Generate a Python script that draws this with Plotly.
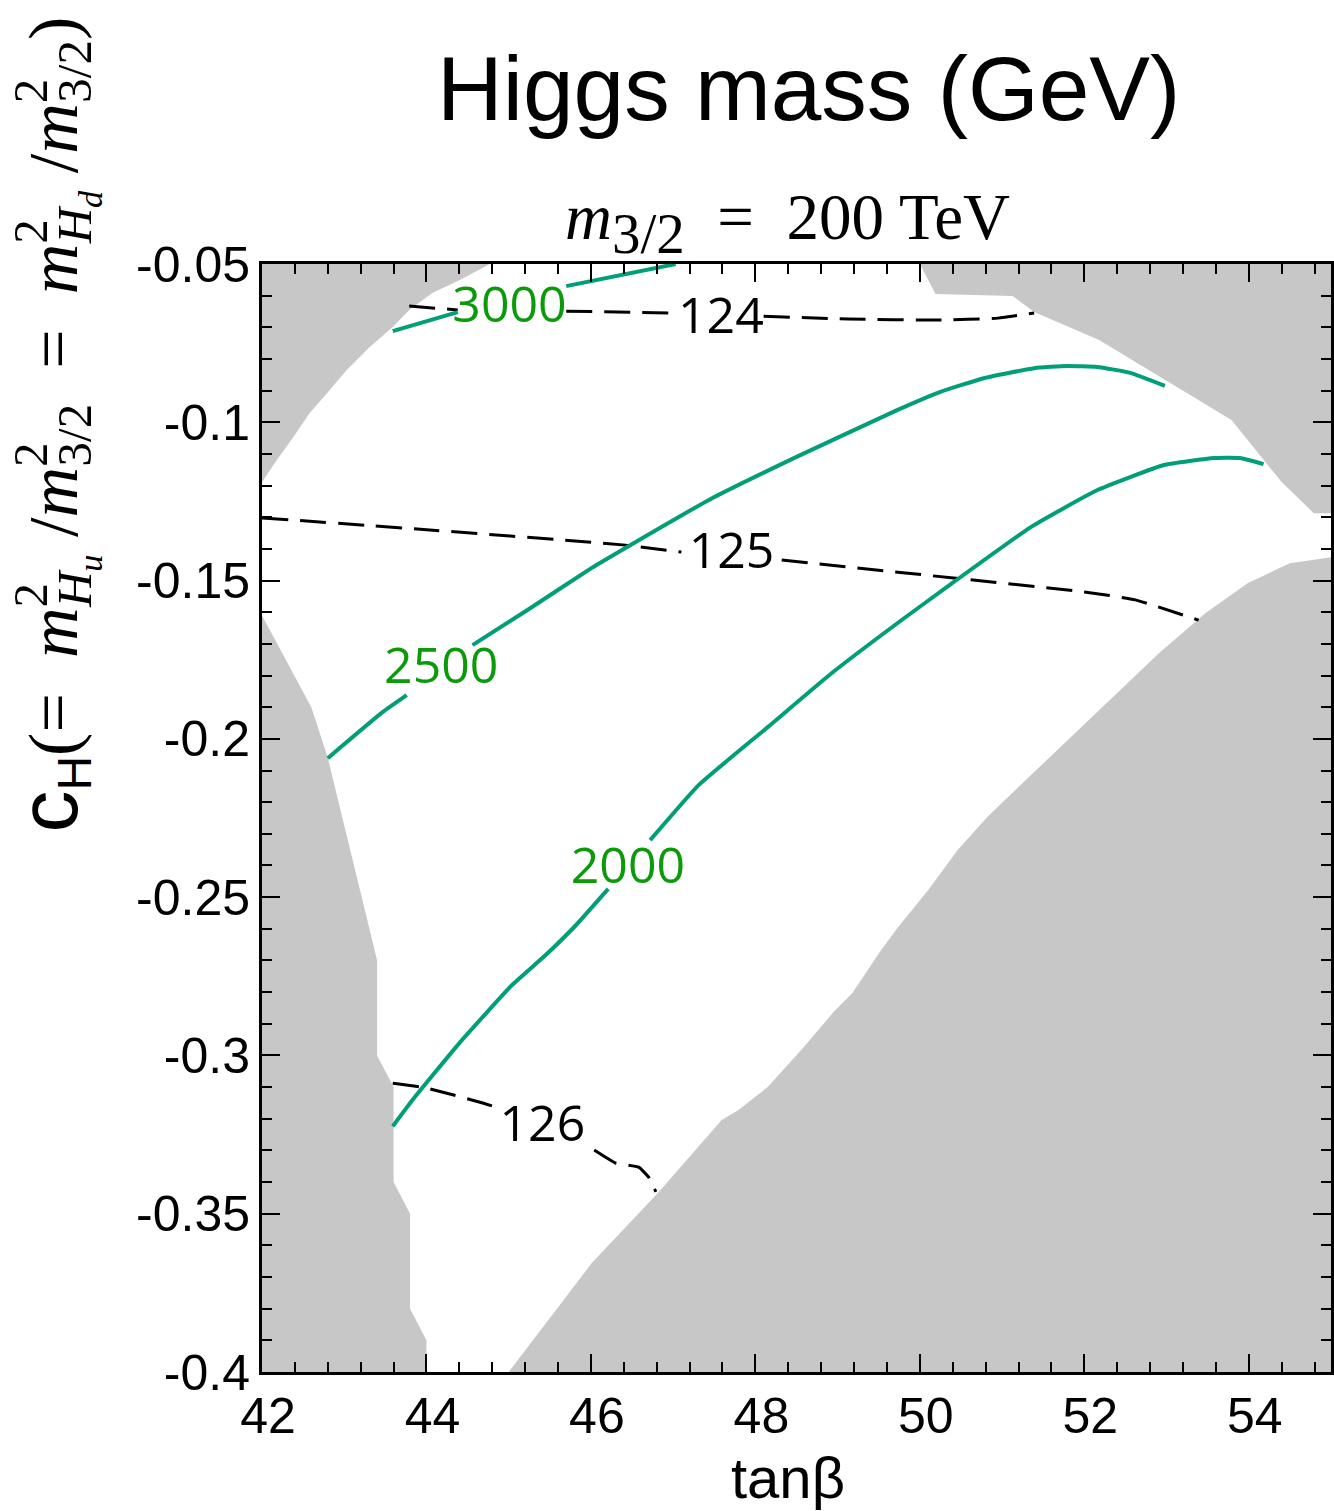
import plotly.graph_objects as go

# ---- excluded regions (grey) ----
ul_x = [42.0, 42.18, 42.38, 42.58, 42.79, 43.03, 43.31, 43.59, 43.79, 44.07, 44.40, 44.77, 42.0]
ul_y = [-0.1189, -0.1119, -0.1047, -0.0971, -0.0908, -0.0835, -0.0762, -0.0699, -0.0645,
        -0.0592, -0.0551, -0.05, -0.05]

ll_x = [42.0, 42.6, 42.8, 43.4, 43.4, 43.6, 43.6, 43.8, 43.8, 44.0, 44.0, 42.0]
ll_y = [-0.161, -0.19, -0.206, -0.27, -0.30, -0.31, -0.34, -0.35, -0.38, -0.39, -0.40, -0.40]

ur_x = [50.0, 50.19, 51.13, 51.39, 52.18, 53.79, 54.40, 54.79, 55.0, 55.0]
ur_y = [-0.05, -0.0595, -0.0601, -0.0652, -0.074, -0.0993, -0.1189, -0.1287, -0.1287, -0.05]

lr_x = [45.0, 46.01, 46.82, 47.59, 47.79, 48.15, 48.59, 48.95, 49.18, 49.53, 49.73,
        50.10, 50.46, 50.82, 51.2, 52.06, 52.91, 53.48, 53.99, 54.5, 55.0, 55.0]
lr_y = [-0.40, -0.3656, -0.3433, -0.3204, -0.3173, -0.31, -0.2973, -0.2863, -0.2803,
        -0.2667, -0.2597, -0.2478, -0.2351, -0.2247, -0.2152, -0.194, -0.1729, -0.1602,
        -0.1508, -0.1445, -0.1426, -0.40]

# ---- Higgs mass contours (GeV), broken where the labels sit ----
h124_x = [43.79, 44.38, None, 45.70, 47.05, None, 48.10, 49.13, 50.22, 50.95, 51.39]
h124_y = [-0.0633, -0.0645, None, -0.0649, -0.0655, None, -0.0665, -0.0674, -0.0677, -0.0671, -0.0655]

h125_x = [42.0, 44.04, 46.42, 47.10, None, 48.32, 50.41, 52.0, 52.62, 53.39]
h125_y = [-0.1302, -0.134, -0.1388, -0.141, None, -0.1435, -0.1492, -0.1536, -0.1561, -0.1625]

h126_x = [43.59, 44.0, 44.64, 44.88, None, 46.04, 46.30, 46.58, 46.70, 46.79]
h126_y = [-0.3088, -0.3103, -0.3147, -0.3166, None, -0.3299, -0.334, -0.3353, -0.3384, -0.3431]

# ---- green contours ----
g3000_x = [43.59, 44.38, None, 45.70, 47.03]
g3000_y = [-0.0712, -0.0652, None, -0.057, -0.05]

g2500_x = [42.80, 43.47, 43.76, None, 44.56, 45.21, 46.01, 46.42, 47.43, 48.52, 49.73,
           50.25, 50.79, 51.39, 51.79, 52.16, 52.56, 52.98]
g2500_y = [-0.2061, -0.1915, -0.1862, None, -0.1704, -0.1596, -0.146, -0.1397, -0.1246,
           -0.1107, -0.0961, -0.0904, -0.086, -0.0829, -0.0822, -0.0825, -0.0844, -0.0885]

g2000_x = [43.59, 43.83, 44.40, 45.04, 45.45, 45.82, 46.21, None, 46.72, 47.31,
           48.15, 48.93, 49.73, 50.41, 51.35, 52.16, 52.97, 53.58, 53.89, 54.18]
g2000_y = [-0.3224, -0.3141, -0.2961, -0.2778, -0.2683, -0.2588, -0.2474, None,
           -0.232, -0.2146, -0.1963, -0.1792, -0.1634, -0.1505, -0.1331, -0.1214,
           -0.1135, -0.1113, -0.1113, -0.1132]

# ---- contour labels ----
green_labels = ["3000", "2500", "2000"]
green_lx = [45.01, 44.18, 46.45]
green_ly = [-0.0643, -0.1785, -0.2417]

black_labels = ["124", "125", "126"]
black_lx = [47.58, 47.71, 45.41]
black_ly = [-0.0677, -0.142, -0.3232]

# ---- axis ticks ----
x_ticks = [42, 44, 46, 48, 50, 52, 54]
y_ticks = [-0.4, -0.35, -0.3, -0.25, -0.2, -0.15, -0.1, -0.05]
y_ticktext = ["-0.4", "-0.35", "-0.3", "-0.25", "-0.2", "-0.15", "-0.1", "-0.05"]

GREY = "#c7c7c7"
GREEN_LINE = "#009f77"
GREEN_TEXT = "#0a9a0a"
SANS = "Liberation Sans, Arial, sans-serif"
SERIF = "Liberation Serif, Times New Roman, serif"
LABEL_FONT = "Open Sans, Noto Sans, sans-serif"

fig = go.Figure()

for rx, ry in [(ul_x, ul_y), (ll_x, ll_y), (ur_x, ur_y), (lr_x, lr_y)]:
    fig.add_trace(go.Scatter(x=rx, y=ry, mode="lines", fill="toself",
                             fillcolor=GREY, line=dict(width=0, color=GREY),
                             hoverinfo="skip", showlegend=False))

for cx, cy in [(h124_x, h124_y), (h125_x, h125_y), (h126_x, h126_y)]:
    fig.add_trace(go.Scatter(x=cx, y=cy, mode="lines",
                             line=dict(color="black", width=3, dash="26px,12px",
                                       shape="spline", smoothing=0.4),
                             connectgaps=False, showlegend=False))

for cx, cy in [(g3000_x, g3000_y), (g2500_x, g2500_y), (g2000_x, g2000_y)]:
    fig.add_trace(go.Scatter(x=cx, y=cy, mode="lines",
                             line=dict(color=GREEN_LINE, width=4, shape="spline", smoothing=0.4),
                             connectgaps=False, showlegend=False))

fig.add_trace(go.Scatter(x=green_lx, y=green_ly, mode="text", text=green_labels,
                         textposition="middle center",
                         textfont=dict(family=LABEL_FONT, size=50, color=GREEN_TEXT),
                         showlegend=False))
fig.add_trace(go.Scatter(x=black_lx, y=black_ly, mode="text", text=black_labels,
                         textposition="middle center",
                         textfont=dict(family=LABEL_FONT, size=50, color="black"),
                         showlegend=False))

axis_common = dict(showgrid=False, zeroline=False, showline=True, linecolor="black",
                   linewidth=3, mirror="allticks", ticks="inside", ticklen=18,
                   tickwidth=2, tickcolor="black",
                   tickfont=dict(family=SANS, size=50, color="black"))

fig.update_xaxes(range=[42, 55], tickmode="array", tickvals=x_ticks,
                 minor=dict(tickmode="linear", tick0=42, dtick=0.4, ticks="inside",
                            ticklen=10, tickwidth=1.5, tickcolor="black"),
                 ticklabelstandoff=-2, ticklabelshift=6, **axis_common)
fig.update_yaxes(range=[-0.4, -0.05], tickmode="array", tickvals=y_ticks,
                 ticktext=y_ticktext,
                 minor=dict(tickmode="linear", tick0=-0.4, dtick=0.01, ticks="inside",
                            ticklen=10, tickwidth=1.5, tickcolor="black"),
                 ticklabelstandoff=-1, **axis_common)

subtitle = ("<i>m</i><sub><span style='font-size:57px'>3/2</span></sub>"
            "&nbsp; = &nbsp;200 TeV")

# superscript 2 stacked over the subscript that follows it
SQ = "<sup><span style='letter-spacing:-24px'>2</span></sup>"
ylabel = ("<span style='font-family:Liberation Sans, Arial, sans-serif;font-size:84px'>c</span>"
          "<sub><span style='font-family:Liberation Sans, Arial, sans-serif;font-size:48px'>H</span></sub>"
          "(=&nbsp; <i>m</i>" + SQ + "<sub><i>H<sub>u</sub></i></sub>&nbsp;/<i>m</i>" + SQ + "<sub>3/2</sub>"
          "&nbsp; = &nbsp;<i>m</i>" + SQ + "<sub><i>H<sub>d</sub></i></sub>&nbsp;/<i>m</i>" + SQ + "<sub>3/2</sub>)")

annotations = [
    dict(text="Higgs mass (GeV)", x=0.5112, y=1.1588, xref="paper", yref="paper",
         xanchor="center", yanchor="middle", showarrow=False,
         font=dict(family=SANS, size=91, color="black")),
    dict(text=subtitle, x=0.4915, y=1.037, xref="paper", yref="paper",
         xanchor="center", yanchor="middle", showarrow=False,
         font=dict(family=SERIF, size=65, color="black")),
    dict(text="tanβ", x=0.4925, y=-0.095, xref="paper", yref="paper",
         xanchor="center", yanchor="middle", showarrow=False,
         font=dict(family=SANS, size=58, color="black")),
    dict(text=ylabel, x=-0.194, y=0.4847, xref="paper", yref="paper", textangle=-90,
         xanchor="center", yanchor="bottom", showarrow=False,
         font=dict(family=SERIF, size=70, color="black")),
]

fig.update_layout(width=1334, height=1511, margin=dict(l=262, r=0, t=264, b=139),
                  paper_bgcolor="white", plot_bgcolor="white",
                  annotations=annotations, showlegend=False)

fig.write_html("out.html")
